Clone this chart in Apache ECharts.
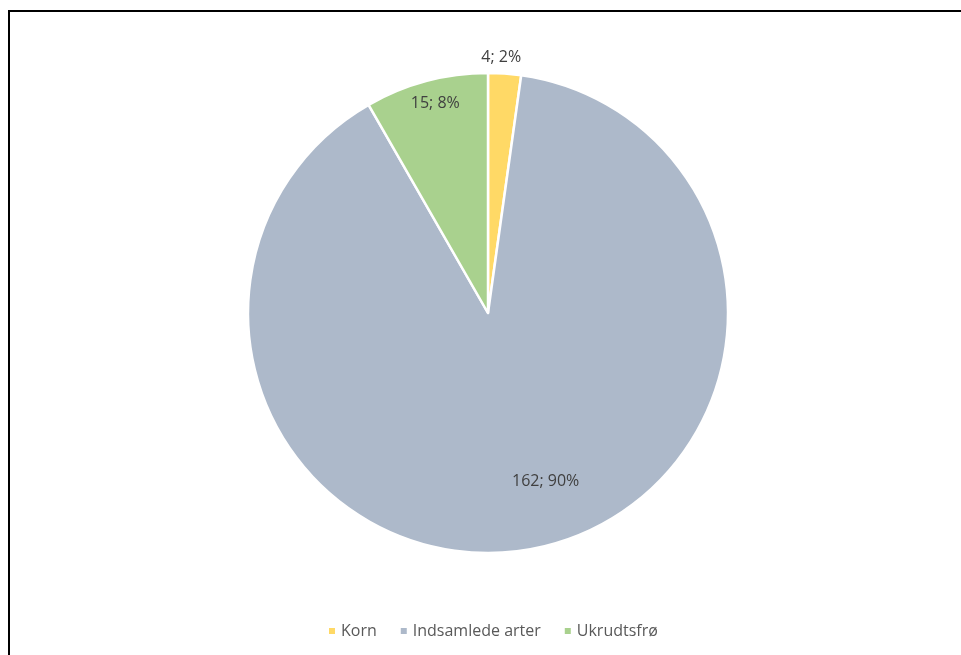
<!DOCTYPE html>
<html>
<head>
<meta charset="utf-8">
<script src="https://cdn.jsdelivr.net/npm/echarts@6/dist/echarts.min.js"></script>
<style>
  body { margin: 0; background: #fff; }
  #frame { position: absolute; left: 8px; top: 10px; width: 1000px; height: 1000px; border: 2px solid #000; }
  #main { position: absolute; left: 0; top: 0; width: 961px; height: 655px; }
</style>
</head>
<body>
<div id="frame"></div>
<div id="main"></div>
<script>
    "use strict";

    // data
    var categories = ['Korn', 'Indsamlede arter', 'Ukrudtsfrø'];
    var values = [4, 162, 15];
    var colors = ['#FFD966', '#ADB9CA', '#A9D18E'];

    // where each label sits: fraction of radius and angle shift (deg)
    var labelRadius = [1.065, 0.74, 0.9];
    var labelShift = [-1, -8, 0.8];

    var cx = 488, cy = 313, R = 240;

    var total = values.reduce(function (a, b) { return a + b; }, 0);
    var midAngles = [];
    var acc = 0;
    values.forEach(function (v) {
        midAngles.push((acc + v / 2) / total * 360);
        acc += v;
    });

    var pieData = categories.map(function (name, i) {
        return { name: name, value: values[i], itemStyle: { color: colors[i] } };
    });

    var option = {
        animation: false,
        legend: {
            bottom: 11,
            left: 322,
            itemWidth: 8,
            itemHeight: 8,
            itemGap: 22,
            icon: 'rect',
            textStyle: { fontFamily: 'Open Sans', fontSize: 16, color: '#595959' },
            data: categories
        },
        series: [{
            type: 'pie',
            center: [cx, cy],
            radius: [0, R],
            startAngle: 90,
            clockwise: true,
            percentPrecision: 0,
            itemStyle: { borderColor: '#fff', borderWidth: 2.5 },
            label: {
                show: true,
                position: 'inside',
                formatter: '{c}; {d}%',
                fontFamily: 'Open Sans',
                fontSize: 16,
                color: '#404040'
            },
            labelLine: { show: false },
            labelLayout: function (params) {
                var i = params.dataIndex;
                var a = (midAngles[i] + labelShift[i]) * Math.PI / 180;
                var r = R * labelRadius[i];
                return {
                    x: cx + r * Math.sin(a),
                    y: cy - r * Math.cos(a),
                    align: 'center',
                    verticalAlign: 'middle'
                };
            },
            data: pieData
        }]
    };

    var chart = echarts.init(document.getElementById('main'));
    chart.setOption(option);
</script>
</body>
</html>
